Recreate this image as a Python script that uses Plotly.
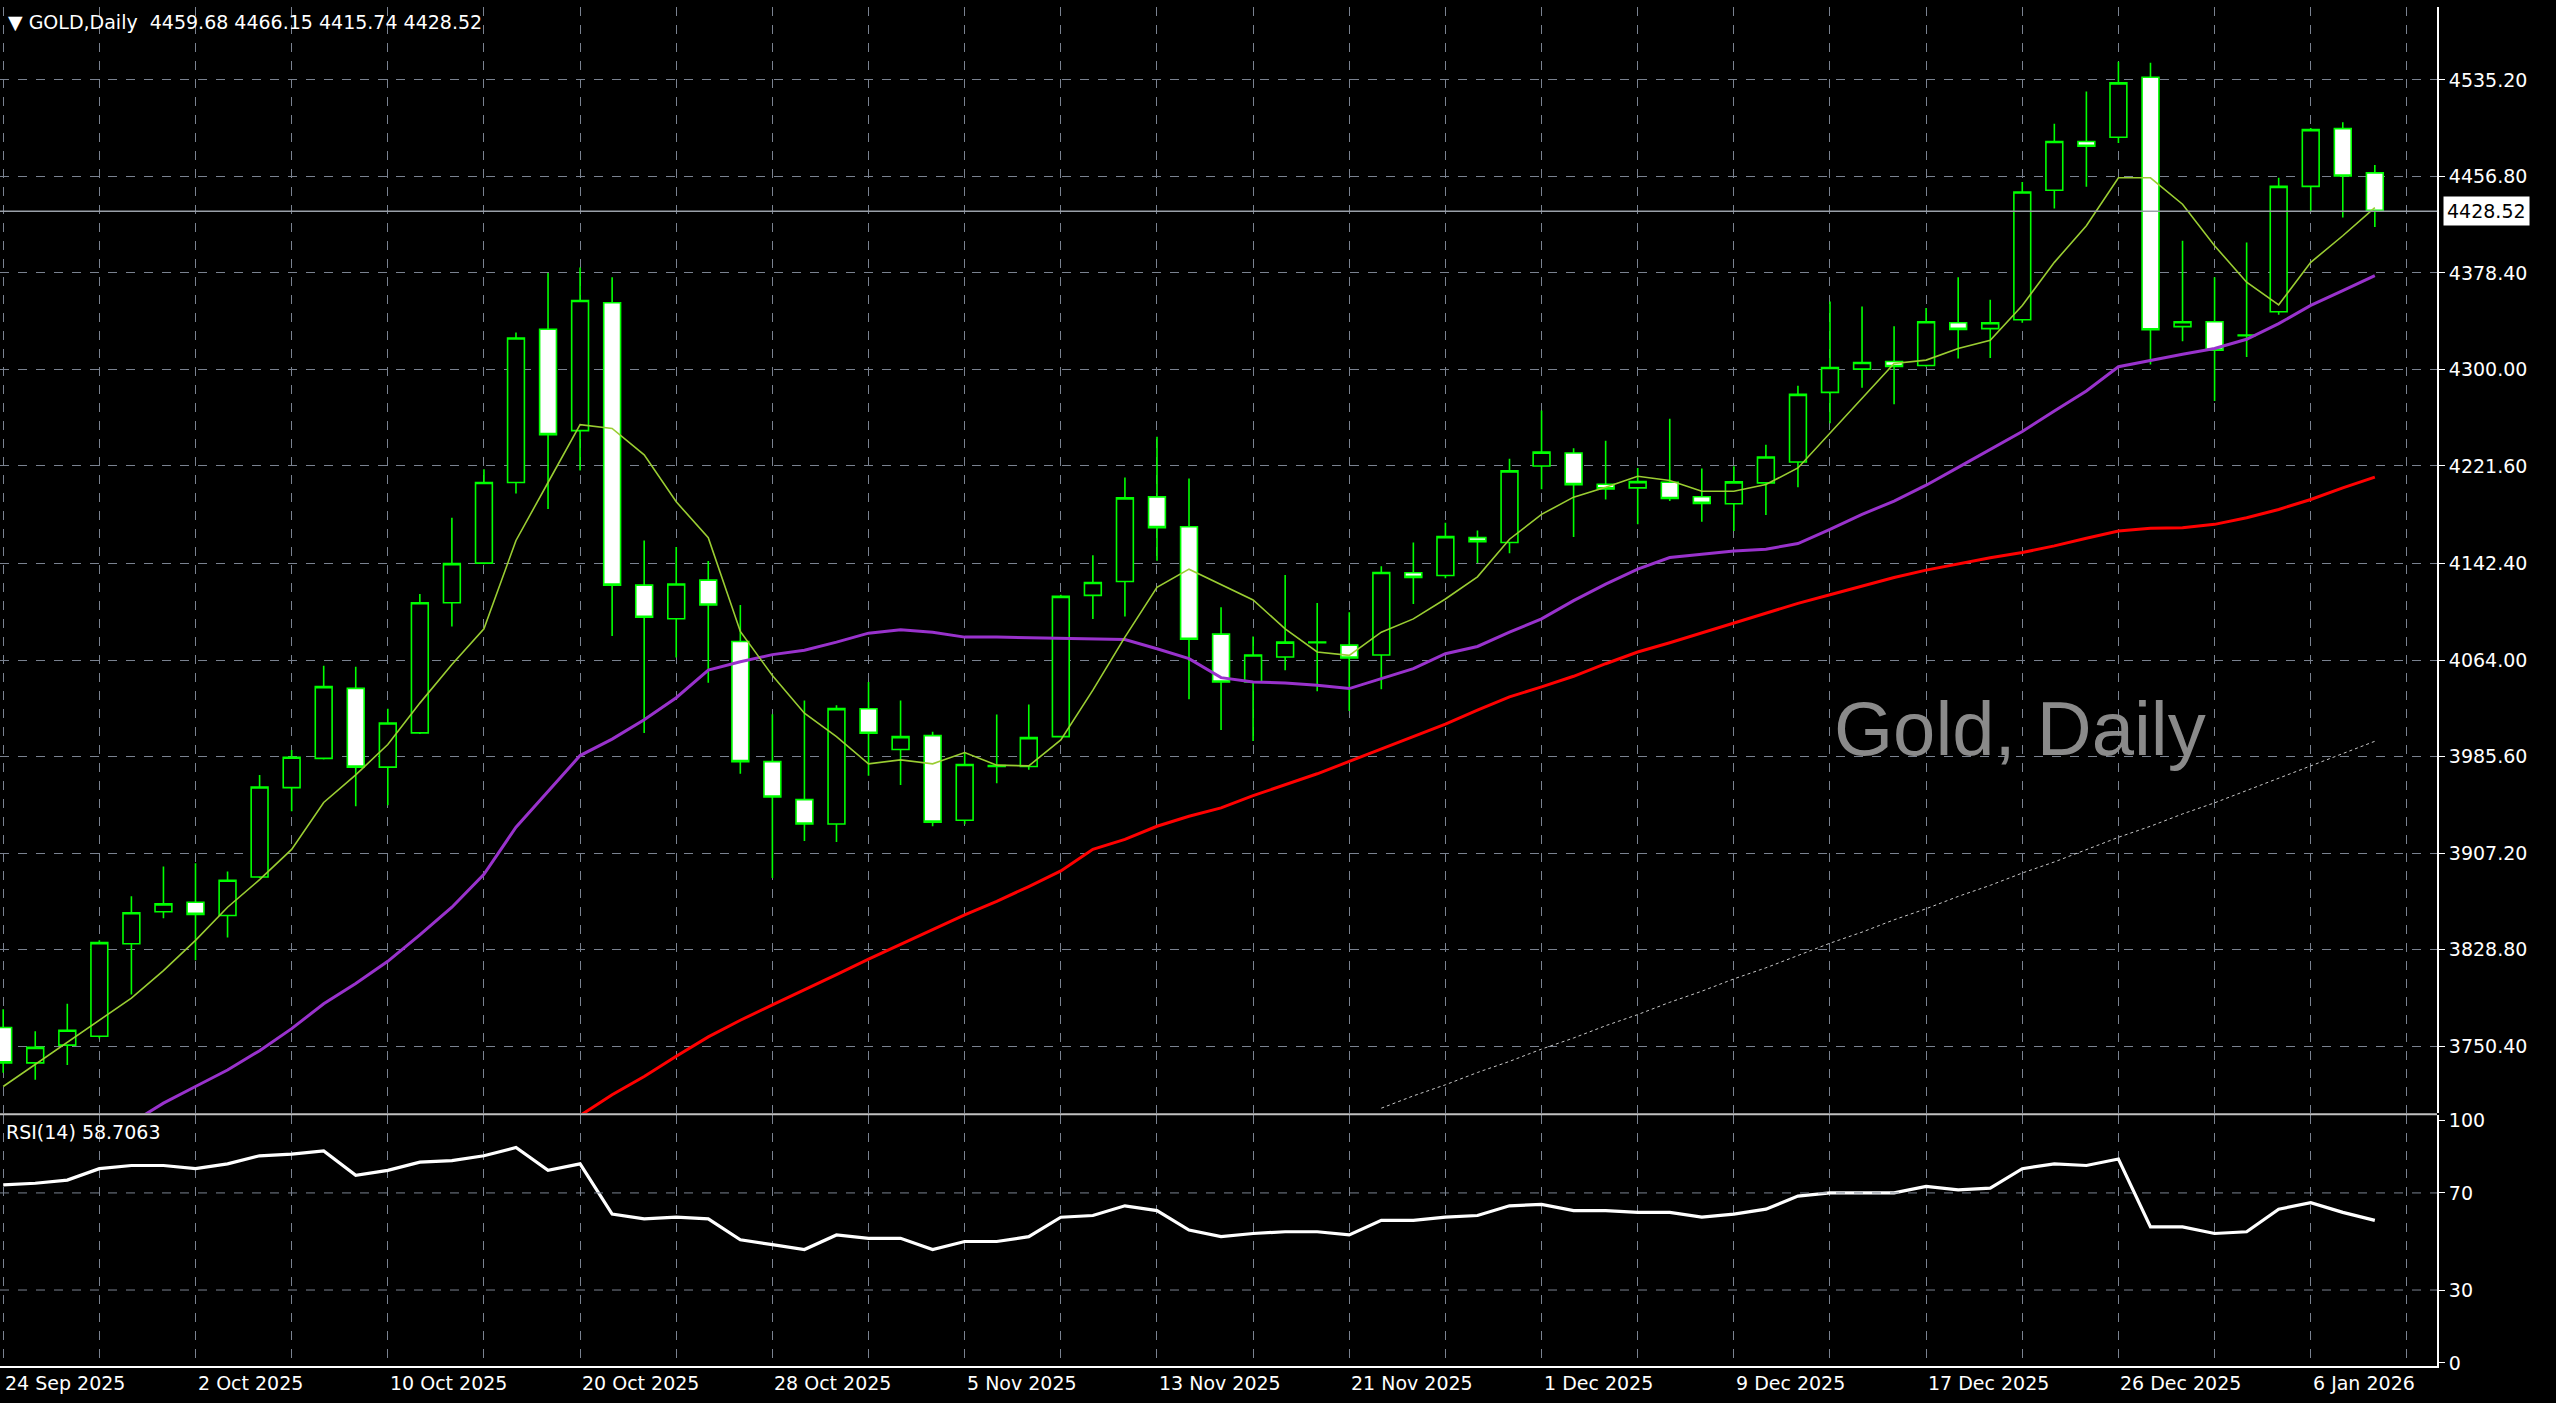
import plotly.graph_objects as go

OPEN = [3765.5,3736.8,3751.2,3758.4,3833.6,3859.6,3867.2,3856.5,3887.8,3960.4,3984.1,4041.0,3977.0,4004.8,4110.5,4142.7,4208.2,4332.7,4250.3,4354.2,
        4124.8,4097.5,4128.9,4079.1,3981.5,3950.6,3930.8,4024.4,3991.3,4002.6,3933.9,3977.5,3977.5,4001.8,4116.5,4127.8,4196.5,4172.3,4085.0,4046.2,
        4066.4,4078.0,4076.1,4068.1,4134.9,4132.7,4163.4,4159.4,4221.6,4232.1,4206.8,4203.8,4208.4,4196.6,4190.9,4207.9,4224.8,4281.4,4300.3,4306.5,
        4303.2,4338.0,4333.2,4340.4,4445.5,4485.1,4488.6,4537.4,4334.8,4338.8,4327.5,4346.9,4448.7,4495.6,4459.68]
HIGH = [3780.3,3762.4,3784.8,3836.3,3872.2,3896.3,3899.0,3892.3,3970.7,3990.9,4059.4,4058.5,4024.5,4117.6,4179.5,4218.9,4330.0,4378.4,4382.9,4374.8,
        4161.1,4155.7,4144.5,4108.7,4020.0,4031.2,4027.2,4046.2,4031.1,4005.8,3988.8,4019.8,4027.9,4117.1,4149.1,4212.2,4245.3,4211.4,4106.8,4083.1,
        4133.0,4110.3,4102.8,4140.2,4159.4,4175.5,4169.3,4227.5,4266.6,4236.1,4242.1,4220.0,4259.9,4219.5,4221.3,4238.9,4286.8,4355.2,4351.2,4335.0,
        4349.9,4374.9,4356.6,4452.2,4499.6,4525.8,4550.0,4549.2,4404.5,4374.9,4403.2,4455.7,4496.1,4500.7,4466.15]
LOW = [3728.8,3723.0,3735.0,3756.6,3792.4,3854.2,3820.2,3838.6,3886.9,3941.2,3983.3,3945.2,3946.1,4003.9,4091.2,4141.8,4199.2,4186.6,4218.0,4083.6,
       4004.8,4066.1,4045.5,3971.6,3886.9,3917.0,3916.1,3970.0,3962.4,3929.0,3930.6,3964.0,3974.8,4001.2,4097.4,4099.3,4144.6,4032.2,4007.2,3998.3,
       4055.6,4038.7,4022.5,4040.3,4109.5,4130.5,4142.9,4150.7,4202.7,4163.9,4194.4,4174.2,4193.1,4176.4,4168.8,4181.7,4204.4,4256.4,4285.2,4271.7,
       4302.2,4308.9,4309.4,4338.0,4430.7,4448.5,4484.0,4304.1,4322.9,4274.4,4310.2,4344.5,4428.0,4423.4,4415.74]
CLOSE = [3736.8,3749.4,3763.3,3834.5,3858.7,3865.9,3857.4,3885.1,3960.9,3985.0,4042.4,3977.0,4012.8,4110.5,4142.3,4208.2,4325.5,4247.1,4356.0,4124.8,
         4098.8,4125.7,4108.7,3981.5,3952.8,3930.8,4024.5,4004.5,4001.8,3932.3,3979.1,3978.3,4001.0,4115.7,4127.0,4195.7,4171.5,4080.9,4046.2,4068.1,
         4078.5,4078.5,4065.6,4135.1,4131.1,4164.2,4160.2,4217.6,4232.9,4206.5,4203.0,4208.9,4195.2,4191.2,4208.7,4228.9,4279.8,4301.6,4305.7,4302.4,
         4338.8,4332.6,4338.0,4444.1,4485.1,4481.3,4532.8,4332.3,4338.8,4315.6,4328.0,4448.7,4494.8,4457.1,4428.52]

MA_FAST = [3717.6,3735.5,3753.4,3771.4,3789.4,3811.7,3836.3,3863.2,3885.6,3910.2,3948.3,3970.7,3995.4,4029.0,4060.3,4089.4,4161.1,4208.2,4255.2,4252.1,
           4230.6,4192.5,4163.4,4087.2,4051.4,4020.8,4001.8,3979.7,3982.9,3979.7,3988.8,3978.6,3978.0,3999.1,4039.5,4082.6,4123.0,4137.8,4125.2,4112.8,
           4089.3,4070.5,4067.8,4086.6,4097.4,4113.6,4131.6,4162.1,4182.3,4196.3,4204.4,4213.2,4209.8,4201.1,4201.1,4206.5,4220.0,4248.3,4276.6,4304.9,
           4307.6,4317.0,4323.7,4352.0,4387.0,4416.7,4455.7,4455.7,4434.2,4400.5,4370.9,4352.5,4387.0,4408.6,4431.5]
MA_MID = [None,None,None,None,3688.0,3704.1,3717.6,3731.0,3746.7,3764.6,3784.8,3801.3,3819.3,3840.8,3863.2,3890.0,3928.2,3957.3,3986.4,3999.8,
          4015.5,4033.4,4055.8,4062.6,4068.4,4072.0,4078.5,4085.8,4088.5,4086.6,4082.6,4082.6,4082.0,4082.0,4081.2,4080.7,4073.2,4065.1,4049.7,4046.2,
          4045.4,4043.5,4040.8,4048.9,4057.0,4069.1,4075.0,4086.6,4097.4,4112.2,4125.7,4137.8,4147.2,4149.9,4152.6,4154.0,4158.6,4170.1,4182.3,4193.1,
          4206.0,4220.5,4234.8,4249.6,4266.3,4282.5,4302.2,4307.6,4312.4,4317.0,4324.5,4337.2,4352.0,4364.1,4376.3]
MA_SLOW = [None]*18 + [3694.0,3710.9,3725.7,3742.2,3757.9,3771.4,3783.9,3796.0,3808.5,3821.0,3833.0,3845.0,3857.0,3868.0,3880.0,3892.7,3910.2,3918.3,
           3929.0,3937.1,3943.9,3953.8,3962.7,3971.6,3981.6,3991.6,4001.8,4012.0,4023.3,4034.1,4042.2,4050.8,4061.0,4070.5,4078.0,4086.0,4094.0,4102.0,
           4110.0,4117.0,4124.0,4131.0,4137.0,4142.0,4147.0,4151.3,4156.7,4162.9,4168.8,4171.0,4171.5,4174.2,4179.6,4186.3,4194.4,4203.8,4212.5]
MA_LONG = [None]*43 + [3700,3710,3719,3729,3738,3748,3757,3767,3776,3786,3795,3805,3814,3824,3834,3843,3853,3862,3872,3881,3891,3900,3910,3920,
           3929,3939,3948,3958,3968,3978,3988,3998]

RSI = [73.3,74.0,75.3,80.0,81.3,81.3,80.0,82.0,85.3,86.0,87.3,77.3,79.3,82.7,83.3,85.3,88.7,79.3,82.0,61.3,
       59.3,60.0,59.3,50.7,48.7,46.7,52.7,51.3,51.3,46.7,50.0,50.0,52.0,60.0,60.7,64.7,62.7,54.7,52.0,53.3,
       54.0,54.0,52.7,58.7,58.7,60.0,60.7,64.7,65.3,62.7,62.7,62.0,62.0,60.0,61.3,63.3,68.7,70.0,70.0,70.0,
       72.7,71.3,72.0,80.0,82.0,81.3,84.0,56.0,56.0,53.3,54.0,63.3,66.0,62.0,58.71]

DATE_LABELS = ["24 Sep 2025","2 Oct 2025","10 Oct 2025","20 Oct 2025","28 Oct 2025","5 Nov 2025","13 Nov 2025",
               "21 Nov 2025","1 Dec 2025","9 Dec 2025","17 Dec 2025","26 Dec 2025","6 Jan 2026"]
DATE_BARS = [0,6,12,18,24,30,36,42,48,54,60,66,72]
PRICE_TICKS = [3750.40,3828.80,3907.20,3985.60,4064.00,4142.40,4221.60,4300.00,4378.40,4456.80,4535.20]
RSI_TICKS = [0,30,70,100]
LAST_PRICE = 4428.52

X = list(range(len(CLOSE)))
FONT = "DejaVu Sans"
GRID = "#7a8290"

fig = go.Figure()
fig.add_trace(go.Candlestick(x=X, open=OPEN, high=HIGH, low=LOW, close=CLOSE,
    increasing=dict(line=dict(color="#00ff00", width=1.6), fillcolor="#000000"),
    decreasing=dict(line=dict(color="#00ff00", width=1.6), fillcolor="#ffffff"),
    whiskerwidth=0, xaxis="x", yaxis="y", showlegend=False, hoverinfo="skip"))
fig.add_trace(go.Scatter(x=X, y=MA_LONG, mode="lines", line=dict(color="#c8c8c8", width=1, dash="dot"), xaxis="x", yaxis="y", showlegend=False))
fig.add_trace(go.Scatter(x=X, y=MA_SLOW, mode="lines", line=dict(color="#ff0000", width=3), xaxis="x", yaxis="y", showlegend=False))
fig.add_trace(go.Scatter(x=X, y=MA_MID, mode="lines", line=dict(color="#9932cc", width=3), xaxis="x", yaxis="y", showlegend=False))
fig.add_trace(go.Scatter(x=X, y=MA_FAST, mode="lines", line=dict(color="#9acd32", width=1.6), xaxis="x", yaxis="y", showlegend=False))
fig.add_trace(go.Scatter(x=X, y=RSI, mode="lines", line=dict(color="#ffffff", width=3.2), xaxis="x2", yaxis="y2", showlegend=False))

xr = [-0.1, 75.94]
grid_x = list(range(0, 76, 3))
fig.update_layout(
    paper_bgcolor="#000000", plot_bgcolor="#000000",
    margin=dict(l=0, r=119, t=0, b=37),
    boxgap=0.25,
    font=dict(family=FONT, color="#ffffff", size=19),
    xaxis=dict(domain=[0, 1], range=xr, anchor="y", tickvals=grid_x, showticklabels=False, showgrid=True,
               gridcolor=GRID, griddash="dash", gridwidth=1, zeroline=False, rangeslider=dict(visible=False), fixedrange=True),
    yaxis=dict(domain=[0.186, 1], range=[3695.9, 4594.4], side="right", tickvals=PRICE_TICKS,
               ticktext=[f"{v:.2f}" for v in PRICE_TICKS], showgrid=True, gridcolor=GRID, griddash="dash",
               zeroline=False, ticks="outside", ticklen=6, tickcolor="#ffffff", showline=True, linecolor="#ffffff", linewidth=2),
    xaxis2=dict(domain=[0, 1], range=xr, anchor="y2", tickvals=grid_x, showticklabels=False, showgrid=True,
                gridcolor=GRID, griddash="dash", zeroline=False, showline=True, linecolor="#ffffff", linewidth=2),
    yaxis2=dict(domain=[0, 0.1845], range=[-1.3, 102], side="right", tickvals=RSI_TICKS,
                ticktext=[str(v) for v in RSI_TICKS], showgrid=False, zeroline=False, ticks="outside", ticklen=6,
                tickcolor="#ffffff", showline=True, linecolor="#ffffff", linewidth=2),
)

shapes = []
for lvl in (30, 70):
    shapes.append(dict(type="line", xref="x2", yref="y2", x0=xr[0], x1=xr[1], y0=lvl, y1=lvl,
                       line=dict(color=GRID, width=1, dash="dash")))
shapes.append(dict(type="line", xref="x", yref="y", x0=xr[0], x1=xr[1], y0=LAST_PRICE, y1=LAST_PRICE,
                   line=dict(color="#9aa0a8", width=1.5)))
shapes.append(dict(type="line", xref="paper", yref="paper", x0=0, x1=1, y0=0.1852, y1=0.1852,
                   line=dict(color="#c0c0c0", width=2)))
fig.update_layout(shapes=shapes)

ann = []
for lab, b in zip(DATE_LABELS, DATE_BARS):
    ann.append(dict(x=b, xref="x2", y=0, yref="paper", yshift=-4, text=lab, showarrow=False,
                    xanchor="left", yanchor="top", font=dict(size=19, color="#ffffff")))
ann.append(dict(x=1, xref="paper", y=LAST_PRICE, yref="y", text=f"{LAST_PRICE:.2f}", showarrow=False,
                xanchor="left", xshift=6, bgcolor="#ffffff", font=dict(color="#000000", size=19), borderpad=3))
ann.append(dict(x=0, xref="paper", y=1, yref="paper", yshift=-2, text="▼ GOLD,Daily  4459.68 4466.15 4415.74 4428.52",
                showarrow=False, xanchor="left", yanchor="top", xshift=6, font=dict(size=19, color="#ffffff")))
ann.append(dict(x=0, xref="paper", y=0.1845, yref="paper", yshift=-4, text="RSI(14) 58.7063",
                showarrow=False, xanchor="left", yanchor="top", xshift=4, font=dict(size=19, color="#ffffff")))
ann.append(dict(x=0.829, xref="paper", y=0.469, yref="paper", text="Gold, Daily", showarrow=False,
                xanchor="center", yanchor="middle", font=dict(size=76, color="#8a8a8a", family="Liberation Sans")))
fig.update_layout(annotations=ann)

fig.write_html("out.html", config={"displayModeBar": False},
               post_script="document.body.style.margin='0';document.documentElement.style.height='100%';"
                           "document.body.style.height='100%';Plotly.Plots.resize(document.getElementById('{plot_id}'));")
